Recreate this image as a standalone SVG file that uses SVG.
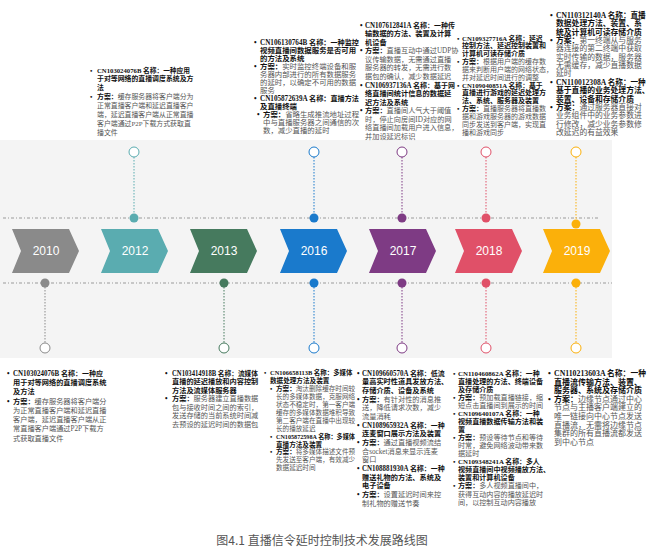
<svg xmlns="http://www.w3.org/2000/svg" width="652" height="557" viewBox="0 0 652 557">
<style>
text{font-family:"Liberation Serif","Noto Sans CJK SC",serif;}
.b{font-weight:bold;fill:#111;}
.r{fill:#555;}
.yr{font-family:"Liberation Sans",Arial,sans-serif;font-size:12px;fill:#fff;text-anchor:middle;}
.dl{stroke:#9a9a9a;stroke-width:1;stroke-dasharray:3 2 1 2;fill:none;}
.vd{stroke-width:1;stroke-dasharray:1.5 1.5;fill:none;}
.ho{fill:#fff;stroke-width:1;}
.a{font-size:6.9px}.bb{font-size:7.4px}.c{font-size:7.2px}.d{font-size:7px}.e{font-size:7.8px}
.f{font-size:7.2px}.g{font-size:7.2px}.h{font-size:6.6px}.i{font-size:7.2px}.j{font-size:7.1px}.k{font-size:8px}
.cap{font-family:"Noto Sans CJK SC",sans-serif;font-size:12px;fill:#555;text-anchor:middle;}
</style>
<rect x="0" y="0" width="652" height="557" fill="#fff"/>
<rect x="0" y="140" width="612" height="218" fill="#f4f4f4"/>

<g id="connectors">
<line class="dl" x1="3" y1="218" x2="600" y2="218"/>
<line class="dl" x1="3" y1="283" x2="612" y2="283"/>
<line class="vd" stroke="#5aacb0" x1="134" y1="157" x2="134" y2="214"/>
<line class="vd" stroke="#1a7acc" x1="314" y1="157" x2="314" y2="214"/>
<line class="vd" stroke="#7e3b84" x1="402" y1="157" x2="402" y2="214"/>
<line class="vd" stroke="#e05068" x1="486" y1="157" x2="486" y2="214"/>
<line class="vd" stroke="#fbb00a" x1="576" y1="157" x2="576" y2="220"/>
<circle class="ho" stroke="#5aacb0" cx="134" cy="152" r="5"/>
<circle class="ho" stroke="#1a7acc" cx="314" cy="152" r="5"/>
<circle class="ho" stroke="#7e3b84" cx="402" cy="152" r="5"/>
<circle class="ho" stroke="#e05068" cx="486" cy="152" r="5"/>
<circle class="ho" stroke="#fbb00a" cx="576" cy="152" r="5"/>
<circle fill="#5aacb0" cx="134" cy="218" r="4.5"/>
<circle fill="#1a7acc" cx="314" cy="218" r="4.5"/>
<circle fill="#7e3b84" cx="402" cy="218" r="4.5"/>
<circle fill="#e05068" cx="486" cy="218" r="4.5"/>
<circle fill="#fbb00a" cx="576" cy="224" r="4.5"/>
<line class="vd" stroke="#8a8a8a" x1="45" y1="287" x2="45" y2="343"/>
<line class="vd" stroke="#467a5e" x1="224" y1="287" x2="224" y2="343"/>
<line class="vd" stroke="#1a7acc" x1="314" y1="287" x2="314" y2="343"/>
<line class="vd" stroke="#7e3b84" x1="402" y1="287" x2="402" y2="343"/>
<line class="vd" stroke="#e05068" x1="486" y1="287" x2="486" y2="343"/>
<line class="vd" stroke="#fbb00a" x1="576" y1="287" x2="576" y2="343"/>
<circle fill="#8a8a8a" cx="45" cy="283" r="4.5"/>
<circle fill="#467a5e" cx="224" cy="283" r="4.5"/>
<circle fill="#1a7acc" cx="314" cy="283" r="4.5"/>
<circle fill="#7e3b84" cx="402" cy="283" r="4.5"/>
<circle fill="#e05068" cx="486" cy="283" r="4.5"/>
<circle fill="#fbb00a" cx="576" cy="283" r="4.5"/>
<circle class="ho" stroke="#8a8a8a" cx="45" cy="348" r="5"/>
<circle class="ho" stroke="#467a5e" cx="224" cy="348" r="5"/>
<circle class="ho" stroke="#1a7acc" cx="314" cy="348" r="5"/>
<circle class="ho" stroke="#7e3b84" cx="402" cy="348" r="5"/>
<circle class="ho" stroke="#e05068" cx="486" cy="348" r="5"/>
<circle class="ho" stroke="#fbb00a" cx="576" cy="348" r="5"/>
</g>

<g id="y2010"><polygon fill="#8a8a8a" points="12,229 69,229 79,251 69,273 12,273 21,251"/><text class="yr" x="46" y="255">2010</text></g>
<g id="y2012"><polygon fill="#5aacb0" points="101,229 158,229 168,251 158,273 101,273 110,251"/><text class="yr" x="135" y="255">2012</text></g>
<g id="y2013"><polygon fill="#467a5e" points="190,229 247,229 257,251 247,273 190,273 199,251"/><text class="yr" x="224" y="255">2013</text></g>
<g id="y2016"><polygon fill="#1a7acc" points="280,229 337,229 347,251 337,273 280,273 289,251"/><text class="yr" x="314" y="255">2016</text></g>
<g id="y2017"><polygon fill="#7e3b84" points="369,229 426,229 436,251 426,273 369,273 378,251"/><text class="yr" x="403" y="255">2017</text></g>
<g id="y2018"><polygon fill="#e05068" points="455,229 512,229 522,251 512,273 455,273 464,251"/><text class="yr" x="489" y="255">2018</text></g>
<g id="y2019"><polygon fill="#fbb00a" points="543,229 600,229 610,251 600,273 543,273 552,251"/><text class="yr" x="577" y="255">2019</text></g>

<g id="t2012" class="a">
<text class="b" x="90" y="72.5">•</text><text class="b" x="97" y="72.5" textLength="93" lengthAdjust="spacingAndGlyphs">CN103024076B 名称：一种应用</text>
<text class="b" x="97" y="81.4">于对等网络的直播调度系统及方</text>
<text class="b" x="97" y="90.2">法</text>
<text class="b" x="90" y="99.1">•</text><text x="97" y="99.1"><tspan class="b">方案：</tspan><tspan class="r">缓存服务器将客户端分为</tspan></text>
<text class="r" x="97" y="107.9">正常直播客户端和延迟直播客户</text>
<text class="r" x="97" y="116.8">端，延迟直播客户端从正常直播</text>
<text class="r" x="97" y="125.6">客户端通过P2P下载方式获取直</text>
<text class="r" x="97" y="134.5">播文件</text>
</g>

<g id="t2016a" class="bb">
<text class="b" x="254" y="44.7">•</text><text class="b" x="260" y="44.7" textLength="99" lengthAdjust="spacingAndGlyphs">CN106130764B 名称：一种监控</text>
<text class="b" x="260" y="52.7">视频直播间数据服务是否可用</text>
<text class="b" x="260" y="60.7">的方法及系统</text>
<text class="b" x="254" y="68.7">•</text><text x="260" y="68.7"><tspan class="b">方案：</tspan><tspan class="r">实时监控终端设备和服</tspan></text>
<text class="r" x="260" y="76.7">务器内部进行的所有数据服务</text>
<text class="r" x="260" y="84.7">的延时，以确定不可用的数据</text>
<text class="r" x="260" y="92.7">服务</text>
<text class="b" x="254" y="100.7">•</text><text class="b" x="260" y="100.7" textLength="99" lengthAdjust="spacingAndGlyphs">CN105872639A 名称：直播方法</text>
<text class="b" x="260" y="108.7">及直播终端</text>
<text class="b" x="257" y="116.7">•</text><text x="263" y="116.7"><tspan class="b">方案：</tspan><tspan class="r">省略生成推流地址过程</tspan></text>
<text class="r" x="263" y="124.7">中与直播服务器之间通信的次</text>
<text class="r" x="263" y="132.7">数，减少直播的延时</text>
</g>

<g id="t2017a" class="c">
<text class="b" x="360" y="27.7">•</text><text class="b" x="365" y="27.7" textLength="90" lengthAdjust="spacingAndGlyphs">CN107612841A 名称：一种传</text>
<text class="b" x="365" y="36.2">输数据的方法、装置及计算</text>
<text class="b" x="365" y="44.8">机设备</text>
<text class="b" x="360" y="53.3">•</text><text x="365" y="53.3"><tspan class="b">方案：</tspan><tspan class="r">直播互动中通过UDP协</tspan></text>
<text class="r" x="365" y="61.9">议传输数据，无需通过直播</text>
<text class="r" x="365" y="70.4">服务器的转发，无需进行数</text>
<text class="r" x="365" y="78.9">据包的确认，减少数据延迟</text>
<text class="b" x="360" y="87.5">•</text><text class="b" x="365" y="87.5" textLength="90" lengthAdjust="spacingAndGlyphs">CN106937136A 名称：基于网</text>
<text class="b" x="365" y="96">络直播间统计信息的数据延</text>
<text class="b" x="365" y="104.6">迟方法及系统</text>
<text class="b" x="360" y="113.1">•</text><text x="365" y="113.1"><tspan class="b">方案：</tspan><tspan class="r">直播间人气大于阈值</tspan></text>
<text class="r" x="365" y="121.6">时，停止向房间ID对应的网</text>
<text class="r" x="365" y="130.2">络直播间加载用户进入信息，</text>
<text class="r" x="365" y="138.7">并加设延迟标识</text>
</g>

<g id="t2018a" class="d">
<text class="b" x="457" y="40.6">•</text><text class="b" x="462" y="40.6" textLength="80.5" lengthAdjust="spacingAndGlyphs">CN109327716A 名称：延迟</text>
<text class="b" x="462" y="48.4">控制方法、延迟控制装置和</text>
<text class="b" x="462" y="56.3">计算机可读存储介质</text>
<text class="b" x="457" y="64.1">•</text><text x="462" y="64.1"><tspan class="b">方案：</tspan><tspan class="r">根据用户端的缓存数</tspan></text>
<text class="r" x="462" y="71.9">据来判断用户端的网络状态，</text>
<text class="r" x="462" y="79.8">并对延迟时间进行的调整</text>
<text class="b" x="457" y="87.6">•</text><text class="b" x="462" y="87.6" textLength="80.5" lengthAdjust="spacingAndGlyphs">CN109040851A 名称：基于</text>
<text class="b" x="462" y="95.4">直播进行游戏的延迟处理方</text>
<text class="b" x="462" y="103.3">法、系统、服务器及装置</text>
<text class="b" x="457" y="111.1">•</text><text x="462" y="111.1"><tspan class="b">方案：</tspan><tspan class="r">直播服务器将直播数</tspan></text>
<text class="r" x="462" y="118.9">据和游戏服务器的游戏数据</text>
<text class="r" x="462" y="126.8">同步发送到客户端，实现直</text>
<text class="r" x="462" y="134.6">播和游戏同步</text>
</g>

<g id="t2019a" class="e">
<text class="b" x="550" y="17.9">•</text><text class="b" x="556" y="17.9" textLength="89.7" lengthAdjust="spacingAndGlyphs">CN110312140A 名称：直播</text>
<text class="b" x="556" y="26.3">数据处理方法、装置、系</text>
<text class="b" x="556" y="34.6">统及计算机可读存储介质</text>
<text class="b" x="550" y="43">•</text><text x="556" y="43"><tspan class="b">方案：</tspan><tspan class="r">第一终端从与服务</tspan></text>
<text class="r" x="556" y="51.3">器连接的第二终端中获取</text>
<text class="r" x="556" y="59.7">实时传输的数据，服务器</text>
<text class="r" x="556" y="68.1">无需缓存，减少直播数据</text>
<text class="r" x="556" y="76.4">延时</text>
<text class="b" x="550" y="84.8">•</text><text class="b" x="556" y="84.8" textLength="89.7" lengthAdjust="spacingAndGlyphs">CN110012308A 名称：一种</text>
<text class="b" x="556" y="93.1">基于直播的业务处理方法、</text>
<text class="b" x="556" y="101.5">装置、设备和存储介质</text>
<text class="b" x="550" y="109.9">•</text><text x="556" y="109.9"><tspan class="b">方案：</tspan><tspan class="r">通过服务器直接对</tspan></text>
<text class="r" x="556" y="118.2">业务组件中的业务参数进</text>
<text class="r" x="556" y="126.6">行修改，减少业务参数修</text>
<text class="r" x="556" y="134.9">改延迟的有益效果</text>
</g>

<g id="t2010" class="f">
<text class="b" x="7" y="375.6">•</text><text class="b" x="13" y="375.6" textLength="90" lengthAdjust="spacingAndGlyphs">CN103024076B 名称：一种应</text>
<text class="b" x="13" y="384.9">用于对等网络的直播调度系统</text>
<text class="b" x="13" y="394.2">及方法</text>
<text class="b" x="7" y="403.5">•</text><text x="13" y="403.5"><tspan class="b">方案：</tspan><tspan class="r">缓存服务器将客户端分</tspan></text>
<text class="r" x="13" y="412.8">为正常直播客户端和延迟直播</text>
<text class="r" x="13" y="422.1">客户端，延迟直播客户端从正</text>
<text class="r" x="13" y="431.4">常直播客户端通过P2P下载方</text>
<text class="r" x="13" y="440.7">式获取直播文件</text>
</g>

<g id="t2013" class="g">
<text class="b" x="165" y="375.6">•</text><text class="b" x="172" y="375.6" textLength="86" lengthAdjust="spacingAndGlyphs">CN103414918B 名称：流媒体</text>
<text class="b" x="172" y="384.1">直播的延迟播放和内容控制</text>
<text class="b" x="172" y="392.6">方法及流媒体服务器</text>
<text class="b" x="165" y="401.1">•</text><text x="172" y="401.1"><tspan class="b">方案：</tspan><tspan class="r">服务器建立直播数据</tspan></text>
<text class="r" x="172" y="409.6">包与接收时间之间的索引，</text>
<text class="r" x="172" y="418.1">发送存储的当前系统时间减</text>
<text class="r" x="172" y="426.6">去预设的延迟时间的数据包</text>
</g>

<g id="t2016b" class="h">
<text class="b" x="264" y="375.4">•</text><text class="b" x="270" y="375.4" textLength="82.5" lengthAdjust="spacingAndGlyphs">CN106658113B 名称：多媒体</text>
<text class="b" x="270" y="383.3">数据处理方法及装置</text>
<text class="b" x="270" y="391.2">•</text><text x="276" y="391.2"><tspan class="b">方案：</tspan><tspan class="r">淘汰删除缓存时间较</tspan></text>
<text class="r" x="276" y="399.1">长的多媒体数据，克服网络</text>
<text class="r" x="276" y="407">状态不稳定时，第一客户端</text>
<text class="r" x="276" y="414.9">缓存的多媒体数据堆积导致</text>
<text class="r" x="276" y="422.8">第二客户端在直播中出现较</text>
<text class="r" x="276" y="430.7">长的播放延迟</text>
<text class="b" x="270" y="438.6">•</text><text class="b" x="276" y="438.6" textLength="79" lengthAdjust="spacingAndGlyphs">CN105872598A 名称：多媒体</text>
<text class="b" x="276" y="446.5">直播方法及装置</text>
<text class="b" x="270" y="454.4">•</text><text x="276" y="454.4"><tspan class="b">方案：</tspan><tspan class="r">将多媒体描述文件预</tspan></text>
<text class="r" x="276" y="462.3">先发送至客户端，有效减少</text>
<text class="r" x="276" y="470.2">数据延迟时间</text>
</g>

<g id="t2017b" class="i">
<text class="b" x="357" y="375.6">•</text><text class="b" x="362" y="375.6" textLength="82.8" lengthAdjust="spacingAndGlyphs">CN109660570A 名称：低流</text>
<text class="b" x="362" y="384.3">量高实时性道具发放方法、</text>
<text class="b" x="362" y="392.9">存储介质、设备及系统</text>
<text class="b" x="357" y="401.6">•</text><text x="362" y="401.6"><tspan class="b">方案：</tspan><tspan class="r">有针对性的消息推</tspan></text>
<text class="r" x="362" y="410.3">送，降低请求次数，减少</text>
<text class="r" x="362" y="418.9">流量消耗</text>
<text class="b" x="357" y="427.6">•</text><text class="b" x="362" y="427.6" textLength="82.8" lengthAdjust="spacingAndGlyphs">CN108965932A 名称：一种</text>
<text class="b" x="362" y="436.3">连麦窗口展示方法及装置</text>
<text class="b" x="357" y="445">•</text><text x="362" y="445"><tspan class="b">方案：</tspan><tspan class="r">通过直播视频流结</tspan></text>
<text class="r" x="362" y="453.6">合socket消息来显示连麦</text>
<text class="r" x="362" y="462.3">窗口</text>
<text class="b" x="357" y="471">•</text><text class="b" x="362" y="471" textLength="82.8" lengthAdjust="spacingAndGlyphs">CN108881930A 名称：一种</text>
<text class="b" x="362" y="479.6">赠送礼物的方法、系统及</text>
<text class="b" x="362" y="488.3">电子设备</text>
<text class="b" x="357" y="497">•</text><text x="362" y="497"><tspan class="b">方案：</tspan><tspan class="r">设置延迟时间来控</tspan></text>
<text class="r" x="362" y="505.6">制礼物的赠送节奏</text>
</g>

<g id="t2018b" class="j">
<text class="b" x="453" y="375.6">•</text><text class="b" x="458" y="375.6" textLength="81.7" lengthAdjust="spacingAndGlyphs">CN110460862A 名称：一种</text>
<text class="b" x="458" y="383.7">直播处理的方法、终端设备</text>
<text class="b" x="458" y="391.7">及存储介质</text>
<text class="b" x="453" y="399.8">•</text><text x="458" y="399.8"><tspan class="b">方案：</tspan><tspan class="r">预加载直播链接，缩</tspan></text>
<text class="r" x="458" y="407.8">短点击直播间到展示的时间</text>
<text class="b" x="453" y="415.9">•</text><text class="b" x="458" y="415.9" textLength="81.7" lengthAdjust="spacingAndGlyphs">CN109640107A 名称：一种</text>
<text class="b" x="458" y="424">视频直播数据传输方法和装</text>
<text class="b" x="458" y="432">置</text>
<text class="b" x="453" y="440.1">•</text><text x="458" y="440.1"><tspan class="b">方案：</tspan><tspan class="r">预设等待节点和等待</tspan></text>
<text class="r" x="458" y="448.1">时常，避免网络波动带来数</text>
<text class="r" x="458" y="456.2">据延时</text>
<text class="b" x="453" y="464.3">•</text><text class="b" x="458" y="464.3" textLength="81.7" lengthAdjust="spacingAndGlyphs">CN109348241A 名称：多人</text>
<text class="b" x="458" y="472.3">视频直播间中视频播放方法、</text>
<text class="b" x="458" y="480.4">装置和计算机设备</text>
<text class="b" x="453" y="488.4">•</text><text x="458" y="488.4"><tspan class="b">方案：</tspan><tspan class="r">多人视频直播间中，</tspan></text>
<text class="r" x="458" y="496.5">获得互动内容的播放延迟时</text>
<text class="r" x="458" y="504.6">间，以控制互动内容播放</text>
</g>

<g id="t2019b" class="k">
<text class="b" x="548" y="375.9">•</text><text class="b" x="554" y="375.9" textLength="92" lengthAdjust="spacingAndGlyphs">CN110213603A 名称：一种</text>
<text class="b" x="554" y="384.5">直播流传输方法、装置、</text>
<text class="b" x="554" y="393.1">服务器、系统及存储介质</text>
<text class="b" x="548" y="401.7">•</text><text x="554" y="401.7"><tspan class="b">方案：</tspan><tspan class="r">边缘节点通过中心</tspan></text>
<text class="r" x="554" y="410.3">节点与主播客户端建立的</text>
<text class="r" x="554" y="418.9">唯一链接向中心节点发送</text>
<text class="r" x="554" y="427.5">直播流，无需将边缘节点</text>
<text class="r" x="554" y="436.1">集群的所有直播流都发送</text>
<text class="r" x="554" y="444.7">到中心节点</text>
</g>

<g id="caption"><text class="cap" x="322" y="545">图4.1 直播信令延时控制技术发展路线图</text></g>
</svg>
